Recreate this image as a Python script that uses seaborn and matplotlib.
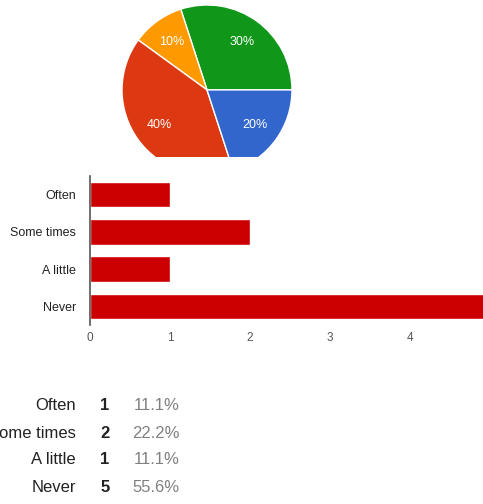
import pandas as pd
import seaborn as sns
import matplotlib.pyplot as plt

# Pie data (slice order as drawn, counter-clockwise from 3 o'clock)
pie_values = [30, 10, 40, 20]
pie_colors = ["#109618", "#ff9900", "#dc3912", "#3366cc"]

# Bar / summary data
answers = ["Often", "Some times", "A little", "Never"]
counts = [1, 2, 1, 5]
percents = ["11.1%", "22.2%", "11.1%", "55.6%"]

W, H = 483, 504
sns.set_style("white")
plt.rcParams["font.family"] = ["Liberation Sans", "DejaVu Sans"]

fig = plt.figure(figsize=(W / 100, H / 100), dpi=100)


def px_axes(x0, y0, x1, y1):
    # axes from pixel box (top-left origin)
    return fig.add_axes([x0 / W, 1 - y1 / H, (x1 - x0) / W, (y1 - y0) / H])


# Part 1: pie chart (cut off at the bottom like the screenshot)
ax_pie = px_axes(122, 5, 292, 157)
wedges, _, autotexts = ax_pie.pie(
    pie_values, colors=pie_colors, startangle=0, counterclock=True,
    autopct="%d%%", pctdistance=0.7,
    wedgeprops=dict(edgecolor="white", linewidth=1),
    textprops=dict(color="white", fontsize=9))
for w in wedges:
    w.set_clip_on(True)
ax_pie.set_xlim(-1.0, 1.0)
ax_pie.set_ylim(-0.79, 1.0)
ax_pie.set_aspect("auto")
ax_pie.axis("off")

# Part 2: horizontal bar chart
df = pd.DataFrame({"answer": answers, "count": counts})
ax_bar = px_axes(90, 176, 483, 325)
sns.barplot(data=df, x="count", y="answer", color="#cc0000", width=0.68,
            saturation=1, ax=ax_bar)
ax_bar.set_xlim(0, (W - 90) / 80)
ax_bar.set_xticks([0, 1, 2, 3, 4])
ax_bar.set_xlabel("")
ax_bar.set_ylabel("")
ax_bar.tick_params(axis="x", labelsize=8.5, colors="#555555", length=0, pad=5)
ax_bar.tick_params(axis="y", labelsize=9, labelcolor="#222222", length=0, pad=10)
sns.despine(ax=ax_bar, top=True, right=True, bottom=True)
ax_bar.spines["left"].set_color("#555555")
ax_bar.spines["left"].set_linewidth(1.2)

# Part 3: summary table
row_y = [406, 433, 460, 488]
for name, n, pct, y in zip(answers, counts, percents, row_y):
    fig.text(76 / W, 1 - y / H, name, ha="right", va="center",
             fontsize=12, color="#222222")
    fig.text(105 / W, 1 - y / H, str(n), ha="center", va="center",
             fontsize=12, color="#222222", fontweight="bold")
    fig.text(180 / W, 1 - y / H, pct, ha="right", va="center",
             fontsize=12, color="#808080")

fig.savefig("out.png", dpi=100)
